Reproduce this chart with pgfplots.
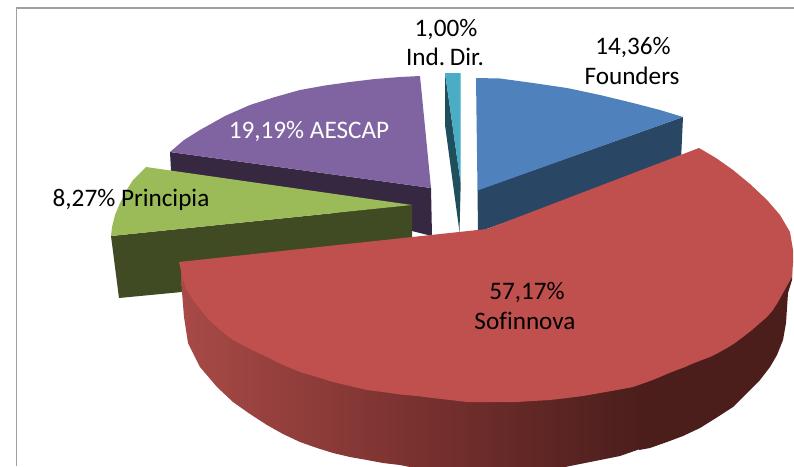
\documentclass[border=0pt]{standalone}
\usepackage{pgfplots}
\usepackage{fontspec}
\setmainfont{Carlito}
\pgfplotsset{compat=1.18}
\definecolor{bt}{HTML}{4F81BD}\definecolor{bs}{HTML}{2A4665}
\definecolor{rt}{HTML}{C0504D}\definecolor{ra}{HTML}{A84A47}\definecolor{rm}{HTML}{7A3230}\definecolor{rb}{HTML}{4B1E1C}
\definecolor{gt}{HTML}{9BBB59}\definecolor{gs}{HTML}{404A23}
\definecolor{pt}{HTML}{8064A2}\definecolor{ps}{HTML}{352840}
\definecolor{tt}{HTML}{4BACC6}\definecolor{ts}{HTML}{1F4E5C}
\newcommand{\poly}[2]{\addplot[fill=#1,draw=none,forget plot] coordinates {#2} --cycle;}
\begin{document}
\begin{tikzpicture}
\begin{axis}[width=794pt,height=466pt,scale only axis,xmin=0,xmax=794,ymin=0,ymax=466,y dir=reverse,hide axis,clip=true,no markers,
 axis background/.style={fill=white}]
\addplot[draw={rgb,255:red,160;green,160;blue,160},line width=1.8pt,forget plot] coordinates {(794,8) (16.5,8) (16.5,466)};
% purple
\poly{ps}{(170,152)(431,188)(432,236)(171,171)}
\poly{pt}{(170,152)(184,140)(200,130)(225,116)(250,105)(275,97)(300,90)(325,85.5)(350,82)(375,79)(400,77)(420,76)(431,188)}
% teal
\poly{ts}{(445,73)(460.7,183)(459.5,232)(445,125)}
\poly{tt}{(445,73)(460.7,73)(460.7,183)}
% blue
\poly{bs}{(477.5,190)(683,117)(681,160)(478,232)}
\poly{bt}{(476,78)(500,78.5)(533,83)(567,88)(600,95)(633,103)(660,110)(683,117)(477.5,190.5)}
% green
\poly{gs}{(111,236)(412,205)(412,270)(119,298)}
\poly{gt}{(146,167)(412,205)(111,236)(112,227)(115,215)(120,203)(126,191)(133,180)}
% red side: gradient part, then the dark part
\addplot[left color=ra,right color=rb,middle color=rm,draw=none,forget plot] coordinates {(181,270)(640,370)(640,449)(620,456)(600,460)(580,464)(560,468)(530,472)(500,474)(470,474)(440,472)(420,469)(400,465)(383,463)(367,460)(350,457)(333,453)(317,448)(300,442)(283,434)(267,425)(250,414)(233,402)(217,387)(200,367)(188,343)(184,317)(182,292)} --cycle;
\poly{rb}{(639,370)(792,270)(792,280)(788,293)(787,308)(786,323)(783,340)(777,355)(770,367)(760,380)(747,393)(733,407)(716,418)(700,428)(683,436)(667,442)(650,448)(639,450)}
% red top
\poly{rt}{(179,262)(487,229)(699,148)(716,158)(733,170)(750,184)(767,200)(780,215)(790,232)(793,250)(793,263)(792,277)(788,284)(783,293)(778,302)(773,310)(767,317)(760,323)(752,330)(743,337)(735,343)(727,348)(718,353)(710,357)(702,360)(693,363.5)(685,367)(677,370)(668,373.5)(660,377)(650,381)(633,387)(617,390)(600,393)(583,396)(567,398)(550,400)(533,401)(517,402)(500,402)(483,402)(467,402)(450,400)(433,398)(417,396)(400,394.5)(383,392)(367,390)(350,386)(333,382)(317,377)(300,372)(283,365)(267,357)(250,349)(233,340)(220,330)(207,318)(200,309)(193,300)(187,290)(183,280)}
% labels
\def\fs{\fontsize{25.2}{29}\selectfont}
\node[anchor=base,font=\fs] at (axis cs:633,54) {14,36\%};
\node[anchor=base,font=\fs] at (axis cs:632,84) {Founders};
\node[anchor=base,font=\fs] at (axis cs:446,36) {1,00\%};
\node[anchor=base,font=\fs] at (axis cs:445,65) {Ind.\kern-1pt\ Dir.};
\node[anchor=base,font=\fs,text=white] at (axis cs:309,138) {19,19\% AESCAP};
\node[anchor=base,font=\fs] at (axis cs:131,206) {8,27\% Principia};
\node[anchor=base,font=\fs] at (axis cs:527,299) {57,17\%};
\node[anchor=base,font=\fs] at (axis cs:525,329) {Sof\kern0pt innova};
\end{axis}
\end{tikzpicture}
\end{document}
